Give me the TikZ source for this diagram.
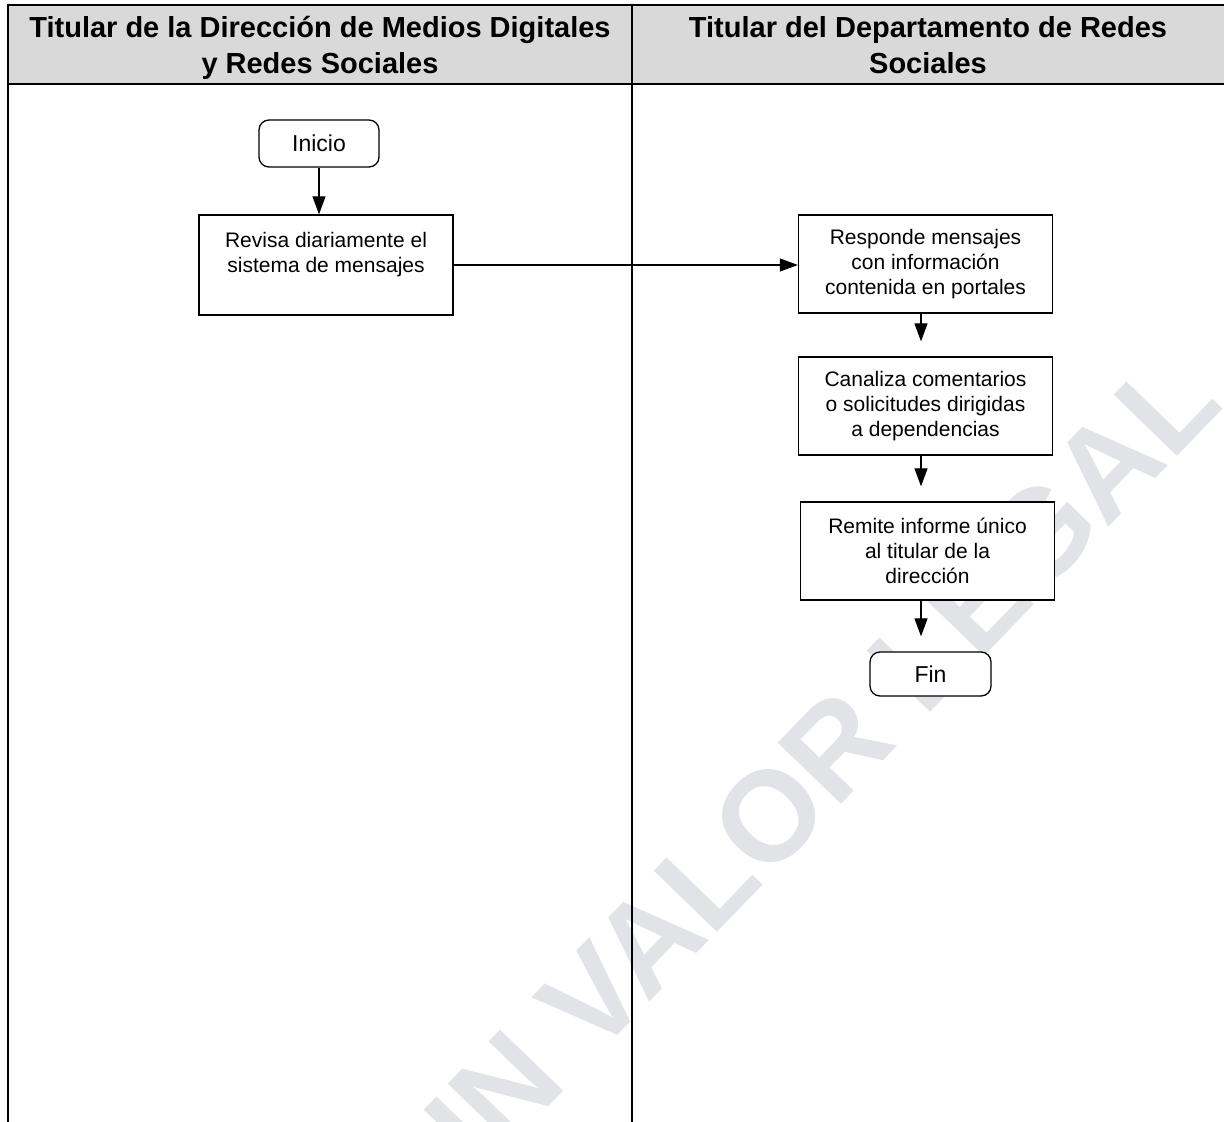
\documentclass[tikz,border=0pt]{standalone}
\usepackage{fontspec}
\setmainfont{Liberation Sans}
\usetikzlibrary{arrows.meta}
\definecolor{headgray}{RGB}{217,217,217}
\definecolor{wmgray}{RGB}{226,227,230}

\begin{document}
\begin{tikzpicture}[
  x=0.5pt, y=-0.5pt,
  every node/.style={font=\fontsize{10.5}{12.5}\selectfont, align=center, inner sep=2pt},
  paso/.style={draw, line width=0.65pt, fill=white, minimum width=127pt, minimum height=49pt},
  terminal/.style={paso, rounded corners=5pt, font=\fontsize{11.5}{14}\selectfont},
  titulo/.style={font=\fontsize{14.5}{18}\selectfont\bfseries},
  flujo/.style={line width=0.6pt, -{Triangle[length=9pt,width=6.5pt]}},
  tabla/.style={line width=1.3pt}
]
  \useasboundingbox (0,0) rectangle (1224,1122);
  \clip (0,0) rectangle (1224,1122);
  % marca de agua
  \node[rotate=46, text=wmgray, font=\fontsize{64}{70}\selectfont\bfseries] (sello) at (792,792) {SIN VALOR LEGAL};
  % tabla
  \fill[headgray] (8,5) rectangle (1224,84);
  \draw[tabla] (8,1122) -- (8,5) -- (1224,5);
  \draw[tabla] (8,84) -- (1224,84);
  \draw[tabla] (632,5) -- (632,1122);
  \node[titulo] (carril1) at (320,48) {Titular de la Dirección de Medios Digitales\\y Redes Sociales};
  \node[titulo] (carril2) at (928,45) {Titular del Departamento de Redes\\Sociales};
  % nodos
  \node[terminal, minimum width=60pt, minimum height=23.5pt] (inicio) at (319,143.5) {Inicio};
  \node[paso, minimum height=50pt] (revisa) at (326,265) {Revisa diariamente el\\sistema de mensajes\\[-4pt]\strut};
  \node[paso] (responde) at (925.5,264) {Responde mensajes\\con información\\contenida en portales};
  \node[paso] (canaliza) at (925.5,406) {Canaliza comentarios\\o solicitudes dirigidas\\a dependencias};
  \node[paso] (remite) at (927.5,551) {Remite informe único\\al titular de la\\dirección};
  \node[terminal, minimum width=60.5pt, minimum height=22pt] (fin) at (930.5,674) {Fin};
  \coordinate (eje) at (921,0);
  % flechas
  \draw[flujo] (inicio.south) -- (inicio.south |- revisa.north);
  \draw[flujo] (revisa.east) -- (revisa.east -| responde.west);
  \foreach \a/\b in {responde/canaliza, canaliza/remite, remite/fin}
    \draw[flujo, shorten >=7.5pt] (\a.south -| eje) -- (\b.north -| eje);
\end{tikzpicture}
\end{document}
